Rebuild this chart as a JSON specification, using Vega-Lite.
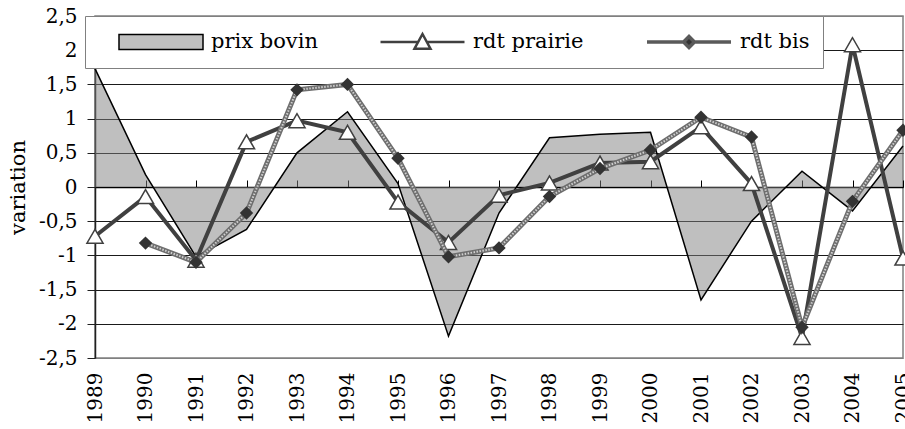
{
  "$schema": "https://vega.github.io/schema/vega-lite/v6.json",
  "width": 808,
  "height": 342,
  "autosize": {"type": "none"},
  "padding": {"left": 95, "top": 16, "right": 2, "bottom": 71},
  "background": "white",
  "config": {
    "font": "DejaVu Serif",
    "view": {"stroke": "#808080", "strokeWidth": 1.5},
    "axis": {"labelColor": "black", "labelFont": "DejaVu Serif", "titleFont": "DejaVu Serif"},
    "axisY": {"labelOverlap": false},
    "legend": {"labelFont": "DejaVu Serif"}
  },
  "data": {
    "values": [
      {"year": 1989, "serie": "prix bovin", "value": 1.73},
      {"year": 1990, "serie": "prix bovin", "value": 0.18},
      {"year": 1991, "serie": "prix bovin", "value": -1.02},
      {"year": 1992, "serie": "prix bovin", "value": -0.62},
      {"year": 1993, "serie": "prix bovin", "value": 0.5},
      {"year": 1994, "serie": "prix bovin", "value": 1.1},
      {"year": 1995, "serie": "prix bovin", "value": 0.05},
      {"year": 1996, "serie": "prix bovin", "value": -2.18},
      {"year": 1997, "serie": "prix bovin", "value": -0.38},
      {"year": 1998, "serie": "prix bovin", "value": 0.72},
      {"year": 1999, "serie": "prix bovin", "value": 0.77},
      {"year": 2000, "serie": "prix bovin", "value": 0.8},
      {"year": 2001, "serie": "prix bovin", "value": -1.65},
      {"year": 2002, "serie": "prix bovin", "value": -0.5},
      {"year": 2003, "serie": "prix bovin", "value": 0.23},
      {"year": 2004, "serie": "prix bovin", "value": -0.35},
      {"year": 2005, "serie": "prix bovin", "value": 0.6},
      {"year": 1989, "serie": "rdt prairie", "value": -0.72},
      {"year": 1990, "serie": "rdt prairie", "value": -0.14},
      {"year": 1991, "serie": "rdt prairie", "value": -1.07},
      {"year": 1992, "serie": "rdt prairie", "value": 0.66},
      {"year": 1993, "serie": "rdt prairie", "value": 0.97},
      {"year": 1994, "serie": "rdt prairie", "value": 0.8},
      {"year": 1995, "serie": "rdt prairie", "value": -0.22},
      {"year": 1996, "serie": "rdt prairie", "value": -0.81},
      {"year": 1997, "serie": "rdt prairie", "value": -0.12},
      {"year": 1998, "serie": "rdt prairie", "value": 0.06},
      {"year": 1999, "serie": "rdt prairie", "value": 0.35},
      {"year": 2000, "serie": "rdt prairie", "value": 0.37},
      {"year": 2001, "serie": "rdt prairie", "value": 0.88},
      {"year": 2002, "serie": "rdt prairie", "value": 0.05},
      {"year": 2003, "serie": "rdt prairie", "value": -2.2},
      {"year": 2004, "serie": "rdt prairie", "value": 2.08},
      {"year": 2005, "serie": "rdt prairie", "value": -1.04},
      {"year": 1990, "serie": "rdt bis", "value": -0.82},
      {"year": 1991, "serie": "rdt bis", "value": -1.1},
      {"year": 1992, "serie": "rdt bis", "value": -0.38},
      {"year": 1993, "serie": "rdt bis", "value": 1.42},
      {"year": 1994, "serie": "rdt bis", "value": 1.5},
      {"year": 1995, "serie": "rdt bis", "value": 0.42},
      {"year": 1996, "serie": "rdt bis", "value": -1.02},
      {"year": 1997, "serie": "rdt bis", "value": -0.89},
      {"year": 1998, "serie": "rdt bis", "value": -0.14},
      {"year": 1999, "serie": "rdt bis", "value": 0.27},
      {"year": 2000, "serie": "rdt bis", "value": 0.54},
      {"year": 2001, "serie": "rdt bis", "value": 1.02},
      {"year": 2002, "serie": "rdt bis", "value": 0.73},
      {"year": 2003, "serie": "rdt bis", "value": -2.05},
      {"year": 2004, "serie": "rdt bis", "value": -0.21},
      {"year": 2005, "serie": "rdt bis", "value": 0.83}
    ]
  },
  "layer": [
    {
      "transform": [{"filter": "datum.serie == 'prix bovin'"}],
      "mark": {"type": "area", "color": "#808080", "fillOpacity": 0.5},
      "encoding": {
        "x": {
          "field": "year", "type": "ordinal",
          "scale": {"type": "point", "padding": 0},
          "axis": {
            "title": null, "labelAngle": -90, "labelFontSize": 20, "labelFont": "DejaVu Serif", "labelPadding": 14,
            "domain": false, "ticks": false, "grid": false, "labelAlign": "right", "labelBaseline": "middle"
          }
        },
        "y": {
          "field": "value", "type": "quantitative",
          "scale": {"domain": [-2.5, 2.5], "nice": false, "zero": false},
          "axis": {
            "title": "variation", "titleFontSize": 21, "titleFont": "DejaVu Serif", "titleFontWeight": "normal", "titleColor": "black", "titlePadding": 10,
            "tickCount": 10,
            "labelExpr": "(datum.value < 0 ? '-' : '') + replace(toString(abs(datum.value)), '.', ',')",
            "labelFontSize": 20, "labelFont": "DejaVu Serif", "labelPadding": 10, "labelOverlap": false,
            "domainColor": "#202020", "domainWidth": 1.5,
            "tickColor": "#202020", "tickSize": 8, "tickWidth": 1,
            "grid": true, "gridWidth": 1,
            "gridColor": {"condition": {"test": "abs(datum.value) == 2.5", "value": "#808080"}, "value": "#1a1a1a"}
          }
        }
      }
    },
    {
      "transform": [{"filter": "datum.serie == 'prix bovin'"}],
      "mark": {"type": "line", "color": "black", "strokeWidth": 1.5},
      "encoding": {
        "x": {
          "field": "year", "type": "ordinal",
          "axis": {
            "title": null, "labels": false, "offset": -171, "grid": false,
            "domain": true, "domainColor": "black", "domainWidth": 1.5,
            "ticks": true, "tickColor": "black", "tickSize": 7, "tickWidth": 1
          }
        },
        "y": {"field": "value", "type": "quantitative"}
      }
    },
    {
      "transform": [{"filter": "datum.serie == 'rdt prairie'"}],
      "mark": {"type": "line", "color": "#404040", "strokeWidth": 4},
      "encoding": {
        "x": {"field": "year", "type": "ordinal", "axis": null},
        "y": {"field": "value", "type": "quantitative"}
      }
    },
    {
      "transform": [{"filter": "datum.serie == 'rdt prairie'"}],
      "mark": {"type": "point", "shape": "triangle-up", "filled": true, "fill": "white", "stroke": "#404040", "strokeWidth": 1.5, "size": 260, "opacity": 1},
      "encoding": {
        "x": {"field": "year", "type": "ordinal", "axis": null},
        "y": {"field": "value", "type": "quantitative"}
      }
    },
    {
      "transform": [{"filter": "datum.serie == 'rdt bis'"}],
      "mark": {"type": "line", "color": "#6e6e6e", "strokeWidth": 5},
      "encoding": {
        "x": {"field": "year", "type": "ordinal", "axis": null},
        "y": {"field": "value", "type": "quantitative"}
      }
    },
    {
      "transform": [{"filter": "datum.serie == 'rdt bis'"}],
      "mark": {"type": "line", "color": "#d0d0d0", "strokeWidth": 2, "strokeDash": [1.5, 1.5]},
      "encoding": {
        "x": {"field": "year", "type": "ordinal", "axis": null},
        "y": {"field": "value", "type": "quantitative"}
      }
    },
    {
      "transform": [{"filter": "datum.serie == 'rdt bis'"}],
      "mark": {"type": "point", "shape": "diamond", "filled": true, "fill": "#333333", "strokeWidth": 0, "size": 180, "opacity": 1},
      "encoding": {
        "x": {"field": "year", "type": "ordinal", "axis": null},
        "y": {"field": "value", "type": "quantitative"}
      }
    },
    {
      "mark": {"type": "point", "filled": true, "opacity": 0},
      "encoding": {
        "x": {"field": "year", "type": "ordinal", "axis": null},
        "y": {"field": "value", "type": "quantitative"},
        "fill": {
          "field": "serie", "type": "nominal",
          "scale": {"domain": ["prix bovin", "rdt prairie", "rdt bis"], "range": ["#c0c0c0", "white", "#333333"]},
          "legend": {
            "title": null, "orient": "none", "direction": "horizontal",
            "legendX": -10, "legendY": 0,
            "fillColor": "white", "strokeColor": "#808080",
            "padding": 13, "clipHeight": 26,
            "symbolSize": 7056, "symbolStrokeWidth": 1.5, "symbolOffset": 20, "symbolOpacity": 1,
            "labelOffset": 7, "labelFontSize": 21, "labelFont": "DejaVu Serif", "labelColor": "black",
            "columnPadding": 41, "labelLimit": 300
          }
        },
        "stroke": {
          "field": "serie", "type": "nominal",
          "scale": {"domain": ["prix bovin", "rdt prairie", "rdt bis"], "range": ["black", "#404040", "#5a5a5a"]},
          "legend": {
            "title": null, "orient": "none", "direction": "horizontal",
            "legendX": -10, "legendY": 0,
            "fillColor": "white", "strokeColor": "#808080",
            "padding": 13, "clipHeight": 26,
            "symbolSize": 7056, "symbolStrokeWidth": 1.5, "symbolOffset": 20, "symbolOpacity": 1,
            "labelOffset": 7, "labelFontSize": 21, "labelFont": "DejaVu Serif", "labelColor": "black",
            "columnPadding": 41, "labelLimit": 300
          }
        },
        "strokeWidth": {
          "field": "serie", "type": "nominal",
          "scale": {"domain": ["prix bovin", "rdt prairie", "rdt bis"], "range": [1.5, 3.5, 4]},
          "legend": {
            "title": null, "orient": "none", "direction": "horizontal",
            "legendX": -10, "legendY": 0,
            "fillColor": "white", "strokeColor": "#808080",
            "padding": 13, "clipHeight": 26,
            "symbolSize": 7056, "symbolStrokeWidth": 1.5, "symbolOffset": 20, "symbolOpacity": 1,
            "labelOffset": 7, "labelFontSize": 21, "labelFont": "DejaVu Serif", "labelColor": "black",
            "columnPadding": 41, "labelLimit": 300
          }
        },
        "shape": {
          "field": "serie", "type": "nominal",
          "scale": {"domain": ["prix bovin", "rdt prairie", "rdt bis"], "range": ["M-1,-0.18H1V0.18H-1Z", "M-1,0H-0.11M0.11,0H1M-0.19,0.16L0,-0.19L0.19,0.16Z", "M-1,0H-0.15M0.15,0H1M0,-0.13L0.13,0L0,0.13L-0.13,0Z"]},
          "legend": {
            "title": null, "orient": "none", "direction": "horizontal",
            "legendX": -10, "legendY": 0,
            "fillColor": "white", "strokeColor": "#808080",
            "padding": 13, "clipHeight": 26,
            "symbolSize": 7056, "symbolStrokeWidth": 1.5, "symbolOffset": 20, "symbolOpacity": 1,
            "labelOffset": 7, "labelFontSize": 21, "labelFont": "DejaVu Serif", "labelColor": "black",
            "columnPadding": 41, "labelLimit": 300
          }
        }
      }
    }
  ],
  "resolve": {"axis": {"x": "independent"}}
}
